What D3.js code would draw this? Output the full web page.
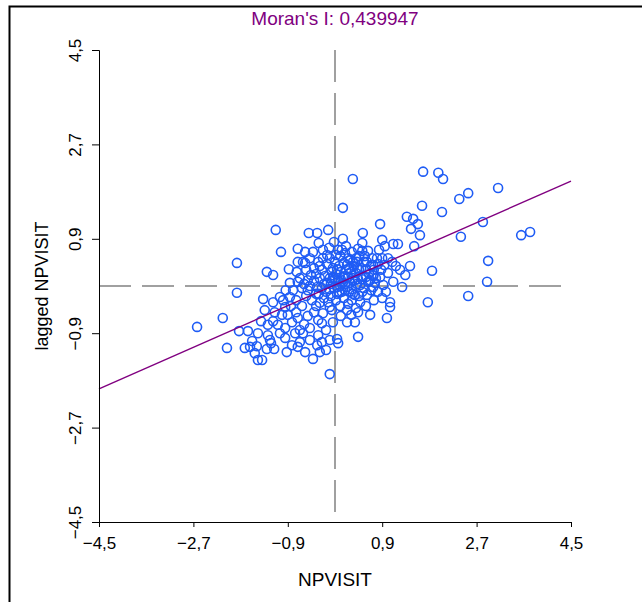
<!DOCTYPE html>
<html>
<head>
<meta charset="utf-8">
<script src="https://cdn.jsdelivr.net/npm/d3@7"></script>
<style>
  body { margin: 0; background: #fff; }
  svg { display: block; font-family: "Liberation Sans", Arial, sans-serif; }
</style>
</head>
<body>
<div id="chart"></div>
<script>
// Moran scatter plot: NPVISIT vs spatially lagged NPVISIT
const moranI = 0.439947;
const lineIntercept = 0.02;
const tickValues = [-4.5, -2.7, -0.9, 0.9, 2.7, 4.5];

// standardized NPVISIT (x) and its spatial lag (y)
const npvisit = [
  -2.63, -2.14, -2.06, -1.87, -1.87, -1.83, -1.66, -1.72, -1.62, -1.58, -1.53, -1.49, -1.47, -1.47, -1.39, -1.41,
  -1.37, -1.30, -1.18, -1.28, -1.24, -1.22, -1.30, -1.16, -1.18, -1.18, -1.13, -1.03, -1.05, -0.95, -0.95, -0.90,
  -0.88, -0.86, -0.82, -0.76, -0.73, -0.71, -0.57, -0.71, -0.57, -0.67, -0.61, -0.67, -0.71, -0.57, -0.42, -0.34,
  -0.50, -0.34, -0.31, -0.23, -0.13, -0.02, 0.15, 0.15, 0.34, -0.10, 0.04, 0.06, 0.23, 0.38, 0.31, 0.44,
  -0.32, -0.25, -0.23, -0.10, 0.19, 0.44, 0.53, 0.52, 0.63, 0.86, 0.90, 0.95, 1.11, 1.20, 0.80, 1.01,
  0.73, 0.55, 0.73, 0.59, 0.73, 0.86, 0.90, 1.05, 1.05, 0.99, 1.11, 1.28, 1.37, 1.49, 1.58, 1.45,
  1.62, 1.51, 1.43, 1.66, 2.04, 1.68, 1.97, 2.06, 1.85, 1.77, 2.37, 2.54, 3.11, 2.40, 2.82, 2.92,
  2.90, 2.54, 3.55, 3.72,
  -0.67, -0.59, -0.52, -0.46, -0.40, -0.34, -0.31, -0.25, -0.19, -0.15, -0.11, -0.08, -0.04, 0.02, 0.06, 0.10,
  0.13, 0.17, 0.21, 0.25, 0.29, 0.32, 0.36, 0.40, 0.44, 0.48, 0.52, 0.55, 0.59, 0.63, 0.69, 0.74,
  0.82, 0.88, 0.94, 1.01, 1.09, 1.16, 1.24, 1.34, -0.44, -0.36, -0.29, -0.21, -0.13, -0.06, 0.02, 0.10,
  0.17, 0.25, 0.32, 0.40, 0.48, -0.55, -0.63, -0.74, -0.80, -0.74, -0.52, -0.40, -0.17, -0.02, 0.08, 0.19,
  0.27, 0.38, 0.46, 0.53, 0.61, 0.69, 0.76, 0.82, 0.92, 0.97, -0.10, 0.00, 0.10, 0.25, 0.32, 0.40,
  -0.32, -0.40, -0.48, -0.55, -0.63, -0.29, -0.21, -0.10, 0.04, 0.15, 0.31, 0.42, 0.21, 0.06, -0.15, -0.42,
  -0.86, -0.94, -0.99, -0.84, -0.71, -0.59, -0.48, -0.32, -0.17, -0.04, 0.11, 0.23, 0.44, 0.59, 0.74, 0.67,
  -0.25, -0.10, -0.17, -0.48, -0.29, -0.82, -0.95, -1.09, -1.01, -1.34, -1.15, -1.28, -1.05, -0.92,
  -0.06, 0.00, 0.08, 0.11, 0.15, 0.23, 0.29, 0.34, 0.42, 0.50, 0.57, 0.65, 0.71, 0.78, 0.84, 0.90,
  -0.15, -0.23, -0.29, -0.36, -0.11, 0.02, 0.13, -0.52, -0.61, 0.04, 0.19, 0.34, 0.46,
  -0.04, 0.11, 0.23, 0.38, 0.52, -0.08, 0.04, 0.34, 0.46, 0.61, 0.73, 0.19, 0.27, 0.42, -0.25, -0.36,
  -0.48, -0.71, 0.52, 0.67
];
const laggedNpvisit = [
  -0.78, -0.61, -1.18, 0.44, -0.13, -0.86, -0.86, -1.18, -1.16, -1.05, -1.28, -1.15, -0.90, -1.41, -1.41, -0.67,
  -0.25, 0.27, 0.21, -0.94, -1.03, -1.09, -1.20, -1.20, -0.67, -0.31, 1.07, 0.65, -0.21, -0.40, -0.80, -0.55,
  0.32, -0.21, -0.69, -0.90, 0.27, 0.71, 0.65, 0.46, 0.44, -0.84, -0.90, -1.07, -1.16, -1.26, -1.39, -1.13,
  1.01, 1.01, 0.82, 0.69, 1.07, 0.84, 0.90, 1.49, 2.04, -1.68, -1.01, -1.09, -0.69, -0.69, -0.55, -0.97,
  -0.65, -0.71, -0.52, -0.40, 0.63, 0.71, 1.01, 0.82, 0.67, 1.18, 0.88, 0.76, 0.80, 0.80, 0.53, 0.25,
  0.21, -0.04, -0.02, 0.17, 0.19, 0.17, -0.23, -0.31, -0.40, -0.61, 0.08, -0.02, 1.32, 1.28, 1.18, 1.09,
  0.97, 0.76, 0.38, 1.53, 1.41, 2.18, 2.16, 2.04, 0.29, -0.31, 1.66, 1.77, 1.87, 0.94, 1.22, 0.48,
  0.08, -0.19, 0.97, 1.03,
  0.15, 0.04, -0.08, 0.21, 0.10, -0.02, -0.15, 0.31, 0.19, 0.06, -0.06, -0.19, 0.34, 0.23, 0.11, 0.00,
  -0.11, 0.44, 0.31, 0.17, 0.06, -0.06, 0.38, 0.25, 0.13, 0.02, -0.11, 0.46, 0.32, 0.08, 0.40, 0.31,
  0.42, 0.31, 0.40, 0.53, 0.46, 0.38, 0.31, 0.21, -0.27, -0.38, -0.32, -0.23, -0.31, -0.46, -0.27, -0.38,
  -0.23, -0.34, -0.27, -0.42, -0.31, -0.19, -0.38, -0.27, -0.08, -0.50, -0.57, -0.50, -0.11, -0.04, -0.13, 0.04,
  -0.11, -0.17, 0.31, 0.19, -0.17, -0.08, 0.06, -0.11, 0.02, -0.11, 0.53, 0.46, 0.57, 0.53, 0.65, 0.53,
  0.46, 0.34, 0.53, 0.31, -0.04, 0.15, 0.04, 0.15, -0.02, 0.17, 0.27, 0.46, 0.76, 0.69, 0.59, 0.65,
  0.06, -0.08, -0.27, -0.38, -0.61, -0.73, -0.80, -0.94, -0.84, -0.69, -0.57, -0.46, -0.50, -0.38, -0.27, -0.55,
  -1.07, -1.03, -1.22, -1.03, -1.26, -1.13, -0.99, -0.74, -0.55, -0.46, -0.50, -0.74, -0.90, -1.26,
  0.27, 0.13, 0.38, 0.27, 0.06, 0.40, 0.50, 0.15, 0.04, 0.34, 0.57, 0.23, 0.53, 0.15, 0.69, 0.53,
  0.42, 0.53, 0.38, 0.23, 0.73, 0.59, 0.69, 0.11, 0.46, -0.15, -0.08, -0.15, -0.19,
  0.15, 0.13, -0.02, 0.11, 0.13, 0.04, 0.32, 0.46, 0.57, 0.46, 0.40, 0.19, 0.34, 0.34, -0.04, -0.15,
  0.00, 0.08, 0.67, 0.11
];

const points = npvisit.map((v, i) => ({x: v, y: laggedNpvisit[i]}));

const W = 642, H = 602;
const margin = {top: 50, right: 71, bottom: 80, left: 99};
const width = W - margin.left - margin.right;
const height = H - margin.top - margin.bottom;

const svg = d3.select("#chart").append("svg")
  .attr("width", W)
  .attr("height", H);

svg.append("rect").attr("width", W).attr("height", H).attr("fill", "#fff");

// outer frame (top and left edges only are visible)
svg.append("path")
  .attr("d", "M9.5,602V6.5H642")
  .attr("fill", "none")
  .attr("stroke", "#000")
  .attr("stroke-width", 2);

const g = svg.append("g")
  .attr("transform", "translate(" + margin.left + "," + margin.top + ")");

const x = d3.scaleLinear().domain([-4.5, 4.5]).range([0, width]);
const y = d3.scaleLinear().domain([-4.5, 4.5]).range([height, 0]);

const fmt = d => d3.format(".1f")(d).replace(".", ",").replace("-", "\u2212");

// reference lines through the means
g.append("line")
  .attr("x1", x(0)).attr("x2", x(0))
  .attr("y1", y(4.5)).attr("y2", y(-4.5))
  .attr("stroke", "#a0a0a0").attr("stroke-width", 2)
  .attr("stroke-dasharray", "32,11");
g.append("line")
  .attr("x1", x(-4.5)).attr("x2", x(4.5))
  .attr("y1", y(0)).attr("y2", y(0))
  .attr("stroke", "#a0a0a0").attr("stroke-width", 2)
  .attr("stroke-dasharray", "32,11");

// points
g.append("g").selectAll("circle")
  .data(points)
  .join("circle")
  .attr("cx", d => x(d.x))
  .attr("cy", d => y(d.y))
  .attr("r", 4.5)
  .attr("fill", "none")
  .attr("stroke", "#1f5cf5")
  .attr("stroke-width", 1.6);

// regression line, slope = Moran's I
g.append("line")
  .attr("x1", x(-4.5)).attr("y1", y(lineIntercept + moranI * -4.5))
  .attr("x2", x(4.5)).attr("y2", y(lineIntercept + moranI * 4.5))
  .attr("stroke", "#800080").attr("stroke-width", 1.4);

// axes
const xAxis = d3.axisBottom(x).tickValues(tickValues).tickFormat(fmt).tickSize(5).tickSizeOuter(5);
const yAxis = d3.axisLeft(y).tickValues(tickValues).tickFormat(fmt).tickSize(7).tickSizeOuter(7);

const gx = g.append("g")
  .attr("transform", "translate(0," + height + ")")
  .call(xAxis);
gx.selectAll("text").attr("y", 12).attr("dy", "0.9em").style("font-size", "17px").attr("fill", "#000");

const gy = g.append("g").call(yAxis);
gy.selectAll(".tick text")
  .attr("x", null).attr("dy", null)
  .attr("text-anchor", "middle")
  .attr("transform", "translate(-18,0) rotate(-90)")
  .style("font-size", "17px").attr("fill", "#000");

g.selectAll(".domain, .tick line").attr("stroke", "#000");

// labels
svg.append("text")
  .attr("x", margin.left + x(0))
  .attr("y", 25)
  .attr("text-anchor", "middle")
  .attr("fill", "#800080")
  .style("font-size", "19px")
  .text("Moran's I: " + String(moranI).replace(".", ","));

svg.append("text")
  .attr("x", margin.left + x(0))
  .attr("y", 586)
  .attr("text-anchor", "middle")
  .style("font-size", "19px")
  .text("NPVISIT");

svg.append("text")
  .attr("transform", "translate(48," + (margin.top + y(0)) + ") rotate(-90)")
  .attr("text-anchor", "middle")
  .style("font-size", "18px")
  .text("lagged NPVISIT");
</script>
</body>
</html>
